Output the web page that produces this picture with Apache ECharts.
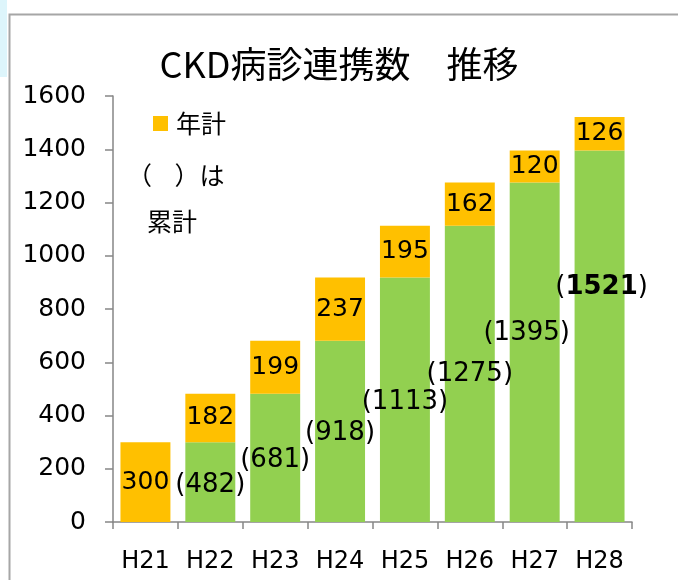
<!DOCTYPE html>
<html>
<head>
<meta charset="utf-8">
<script src="https://cdn.jsdelivr.net/npm/echarts@6/dist/echarts.min.js"></script>
<style>
  html, body { margin: 0; padding: 0; background: #fff; }
  #main { width: 678px; height: 580px; }
</style>
</head>
<body>
<div id="main"></div>
<script>
// データ
const categories = ["H21", "H22", "H23", "H24", "H25", "H26", "H27", "H28"];
const previous = [0, 300, 482, 681, 918, 1113, 1275, 1395]; // 前年までの累計
const yearly = [300, 182, 199, 237, 195, 162, 120, 126];    // 年計
const cumulative = [null, 482, 681, 918, 1113, 1275, 1395, 1521]; // （）内の累計
const yTicks = [0, 200, 400, 600, 800, 1000, 1200, 1400, 1600];

const numFont = "DejaVu Sans";
const jpFont = "Noto Sans CJK JP";

let myChart = echarts.init(document.getElementById("main"));

// 累計ラベルの位置ずれ（元の図に合わせる）
const labelOffsets = [null, [0, 3], [0, 2], [0, 2], [0, 2], null, [-8, -19], [2, -49]];

let greenData = previous.map((v, i) => {
  let item = { value: v };
  if (labelOffsets[i]) {
    item.label = { offset: labelOffsets[i] };
  }
  return item;
});

myChart.setOption({
  animation: false,
  title: {
    text: "CKD病診連携数　推移",
    left: "center",
    top: 41,
    textStyle: {
      fontFamily: jpFont,
      fontSize: 36,
      fontWeight: "normal",
      color: "#000"
    }
  },
  legend: {
    data: ["年計"],
    left: 148,
    top: 106,
    icon: "rect",
    itemWidth: 15,
    itemHeight: 15,
    textStyle: {
      fontFamily: jpFont,
      fontSize: 25,
      color: "#000",
      padding: [0, 0, 0, 3]
    }
  },
  graphic: [
    {
      type: "rect",
      shape: { x: 0, y: 0, width: 7, height: 77 },
      style: { fill: "#DDF5FB" }
    },
    {
      type: "polyline",
      shape: { points: [[9.5, 580], [9.5, 14.5], [678, 14.5]] },
      style: { stroke: "#A6A6A6", lineWidth: 2, fill: null }
    },
    {
      type: "text",
      left: 127,
      top: 163,
      style: { text: "（    ）は", font: "25px " + jpFont, fill: "#000" }
    },
    {
      type: "text",
      left: 147,
      top: 209,
      style: { text: "累計", font: "25px " + jpFont, fill: "#000" }
    }
  ],
  grid: {
    left: 113,
    right: 46,
    top: 96,
    bottom: 58,
    containLabel: false
  },
  xAxis: {
    type: "category",
    data: categories,
    axisLine: { lineStyle: { color: "#868686", width: 1.5 } },
    axisTick: { show: true, length: 7, lineStyle: { color: "#868686", width: 1.5 } },
    axisLabel: {
      fontFamily: numFont,
      fontSize: 24,
      color: "#000",
      margin: 28
    }
  },
  yAxis: {
    type: "value",
    min: 0,
    max: 1600,
    interval: 200,
    splitLine: { show: false },
    axisLine: { show: true, lineStyle: { color: "#868686", width: 1.5 } },
    axisTick: { show: true, length: 8, lineStyle: { color: "#868686", width: 1.5 } },
    axisLabel: {
      fontFamily: numFont,
      fontSize: 25,
      color: "#000",
      margin: 27,
      formatter: function (v) {
        return yTicks.indexOf(v) >= 0 ? String(v) : "";
      }
    }
  },
  series: [
    {
      name: "累計",
      type: "bar",
      stack: "total",
      barCategoryGap: "23%",
      itemStyle: { color: "#92D050" },
      label: {
        show: true,
        position: "inside",
        fontFamily: numFont,
        fontSize: 26,
        color: "#000",
        formatter: function (p) {
          let c = cumulative[p.dataIndex];
          if (c === null) return "";
          if (p.dataIndex === cumulative.length - 1) {
            return "({b|" + c + "})";
          }
          return "(" + c + ")";
        },
        rich: {
          b: { fontFamily: numFont, fontSize: 26, fontWeight: "bold", color: "#000" }
        }
      },
      data: greenData
    },
    {
      name: "年計",
      type: "bar",
      stack: "total",
      barCategoryGap: "23%",
      itemStyle: { color: "#FFC000" },
      label: {
        show: true,
        position: "inside",
        fontFamily: numFont,
        fontSize: 25,
        color: "#000"
      },
      data: yearly
    }
  ]
});
</script>
</body>
</html>
